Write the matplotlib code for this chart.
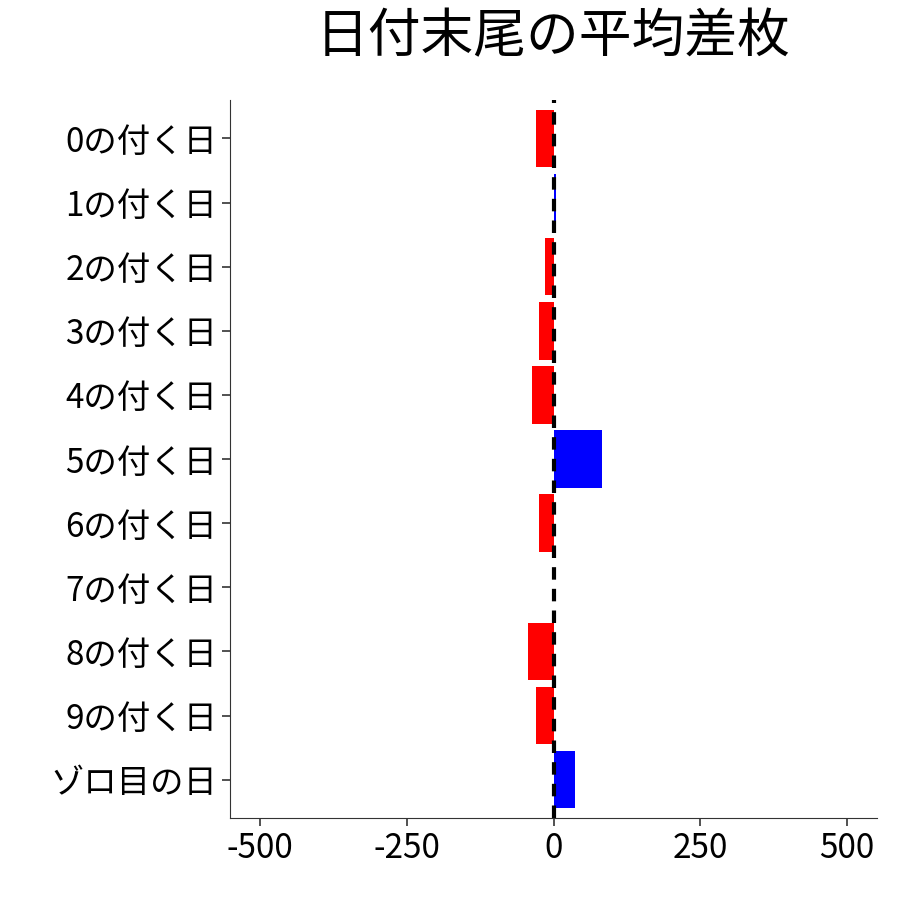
import matplotlib
matplotlib.use("Agg")
import matplotlib.pyplot as plt

plt.rcParams['font.family'] = ['Noto Sans CJK JP', 'DejaVu Sans']

categories = ["0の付く日", "1の付く日", "2の付く日", "3の付く日", "4の付く日", "5の付く日",
              "6の付く日", "7の付く日", "8の付く日", "9の付く日", "ゾロ目の日"]
values = [-29, 4.5, -15, -25.5, -37, 82, -25.5, 1.5, -44, -29, 37]
xticks = [-500, -250, 0, 250, 500]

fig = plt.figure(figsize=(9, 9), dpi=100)
ax = fig.add_axes([0.256, 0.091, 0.718, 0.798])
colors = ['blue' if v > 0 else 'red' for v in values]
ax.barh(range(len(categories)), values, height=0.9, color=colors)
ax.axvline(0, color='black', linestyle=(0, (3, 2.2)), linewidth=3)
ax.set_yticks(range(len(categories)))
ax.set_yticklabels(categories)
ax.set_ylim(10.6, -0.6)
ax.set_xlim(-550, 550)
ax.set_xticks(xticks)
ax.set_xticklabels([str(t) for t in xticks])
ax.tick_params(labelsize=24, length=6, width=1.2, colors='#333333', labelcolor='black')
for s in ['top', 'right']:
    ax.spines[s].set_visible(False)
for s in ['left', 'bottom']:
    ax.spines[s].set_color('#333333')
fig.suptitle("日付末尾の平均差枚", fontsize=38, x=0.614, y=0.99)
fig.savefig("out.png", dpi=100)
